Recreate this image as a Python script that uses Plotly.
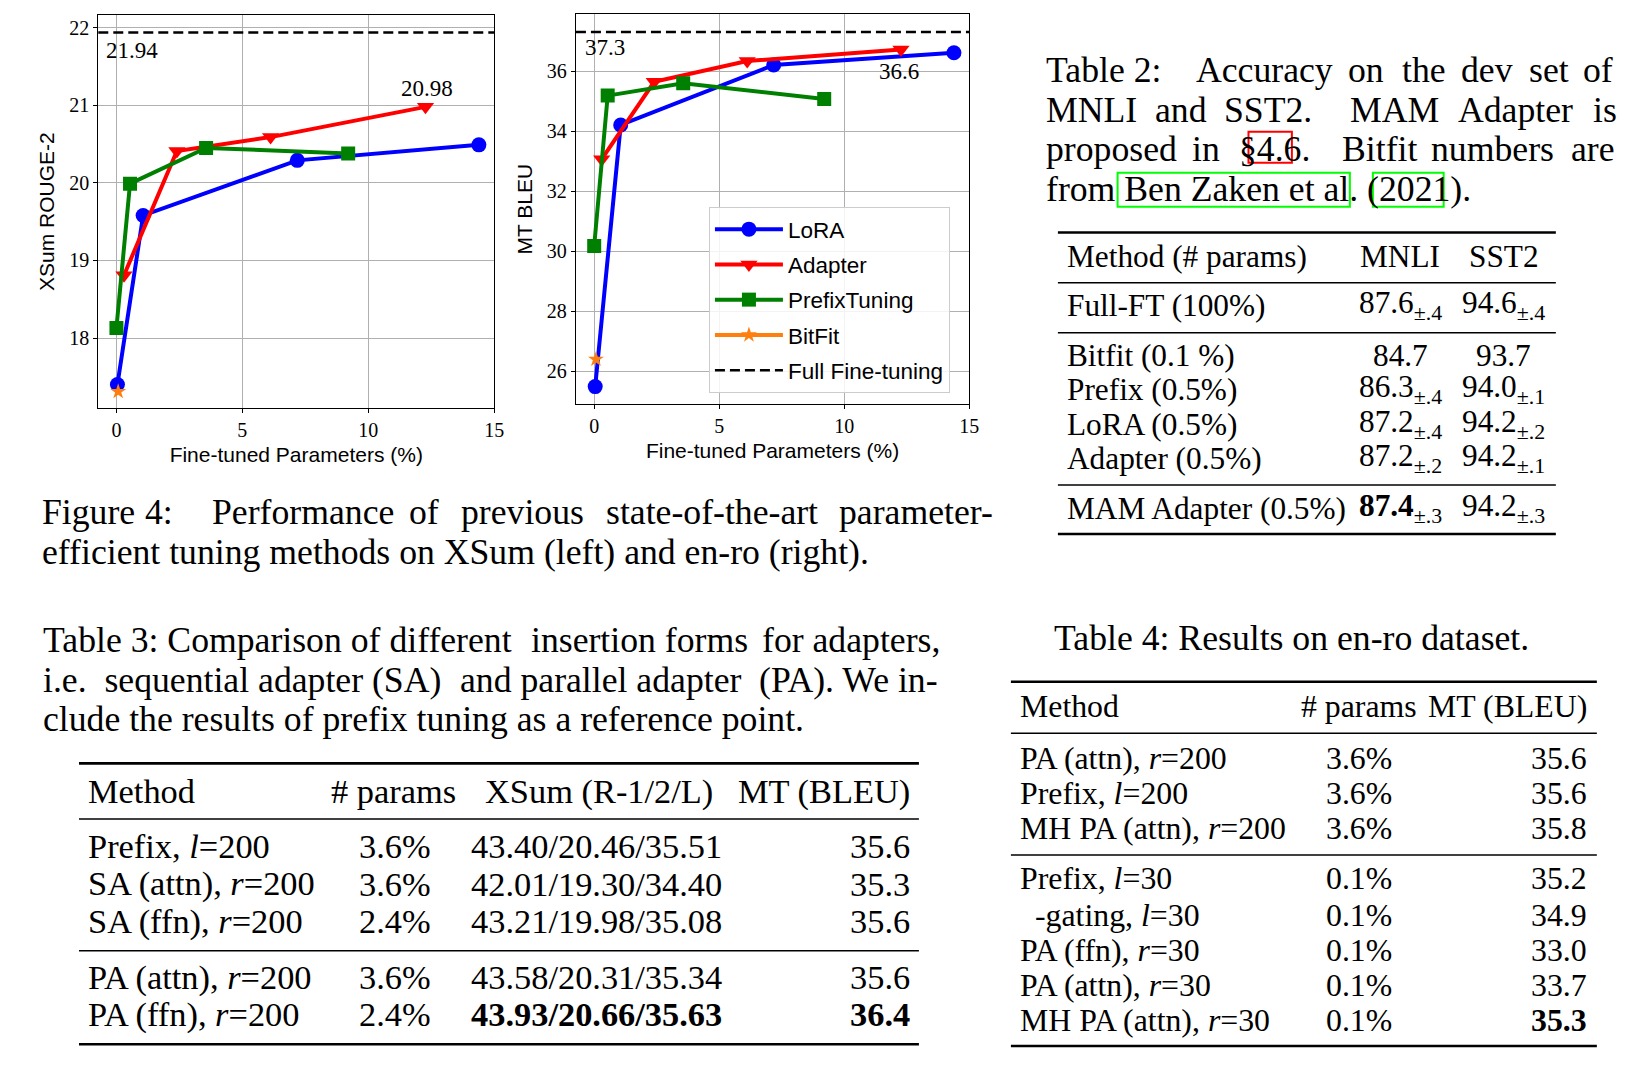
import plotly.graph_objects as go

W, H = 1651, 1070
KX = 1.006  # horizontal correction measured between picture and reference

# ---------------- chart data ----------------
x_lora = [0.04, 1.06, 7.18, 14.39]
x_adapter = [0.30, 2.40, 6.12, 12.27]
x_prefix = [0.00, 0.54, 3.56, 9.20]
x_bitfit = [0.07]

xsum_lora = [17.40, 19.58, 20.29, 20.49]
xsum_adapter = [18.81, 20.41, 20.59, 20.98]
xsum_prefix = [18.13, 19.99, 20.45, 20.38]
xsum_bitfit = [17.31]
xsum_full = 21.94

mt_lora = [25.48, 34.20, 36.20, 36.61]
mt_adapter = [33.06, 35.64, 36.33, 36.72]
mt_prefix = [30.17, 35.18, 35.59, 35.07]
mt_bitfit = [26.39]
mt_full = 37.3

x_ticks = [0, 5, 10, 15]
xsum_ticks = [18, 19, 20, 21, 22]
mt_ticks = [26, 28, 30, 32, 34, 36]

series_names = ["LoRA", "Adapter", "PrefixTuning", "BitFit"]
full_name = "Full Fine-tuning"

# ---------------- table data ----------------
t2_header = ["Method (# params)", "MNLI", "SST2"]
t2_methods = ["Full-FT (100%)", "Bitfit (0.1 %)", "Prefix (0.5%)", "LoRA (0.5%)",
              "Adapter (0.5%)", "MAM Adapter (0.5%)"]
t2_mnli = [87.6, 84.7, 86.3, 87.2, 87.2, 87.4]
t2_mnli_std = [".4", "", ".4", ".4", ".2", ".3"]
t2_sst2 = [94.6, 93.7, 94.0, 94.2, 94.2, 94.2]
t2_sst2_std = [".4", "", ".1", ".2", ".1", ".3"]

t3_header = ["Method", "# params", "XSum (R-1/2/L)", "MT (BLEU)"]
t3_methods = ["Prefix, <i>l</i>=200", "SA (attn), <i>r</i>=200", "SA (ffn), <i>r</i>=200",
              "PA (attn), <i>r</i>=200", "PA (ffn), <i>r</i>=200"]
t3_params = [3.6, 3.6, 2.4, 3.6, 2.4]
t3_r1 = [43.40, 42.01, 43.21, 43.58, 43.93]
t3_r2 = [20.46, 19.30, 19.98, 20.31, 20.66]
t3_rl = [35.51, 34.40, 35.08, 35.34, 35.63]
t3_bleu = [35.6, 35.3, 35.6, 35.6, 36.4]

t4_header = ["Method", "# params", "MT (BLEU)"]
t4_methods = ["PA (attn), <i>r</i>=200", "Prefix, <i>l</i>=200", "MH PA (attn), <i>r</i>=200",
              "Prefix, <i>l</i>=30", "  -gating, <i>l</i>=30", "PA (ffn), <i>r</i>=30",
              "PA (attn), <i>r</i>=30", "MH PA (attn), <i>r</i>=30"]
t4_params = [3.6, 3.6, 3.6, 0.1, 0.1, 0.1, 0.1, 0.1]
t4_bleu = [35.6, 35.6, 35.8, 35.2, 34.9, 33.0, 33.7, 35.3]

cap_t2 = [["Table 2:", "Accuracy", "on", "the", "dev", "set", "of"],
          ["MNLI", "and", "SST2.", "MAM", "Adapter", "is"],
          ["proposed", "in", "§4.6.", "Bitfit", "numbers", "are"],
          ["from Ben Zaken et al. (2021)."]]
cap_f4 = [["Figure", "4:", "Performance", "of", "previous", "state-of-the-art", "parameter-"],
          ["efficient tuning methods on XSum (left) and en-ro (right)."]]
cap_t3 = [["Table 3: Comparison of different", "insertion forms", "for adapters,"],
          ["i.e.\u00a0 sequential adapter (SA)", "and parallel adapter", "(PA). We in-"],
          ["clude the results of prefix tuning as a reference point."]]
cap_t4 = "Table 4: Results on en-ro dataset."

# ---------------- styles / layout positions ----------------
COLORS = ["#0000ff", "#ff0000", "#008000", "#ff7f0e"]
SYMBOLS = ["circle", "triangle-down", "square", "star"]
SIZES = [15, 15, 14, 12]
SERIF = "Liberation Serif"
SANS = "Liberation Sans"
CAP = 35.7
T2S = 31.3
T3S = 34.4
T4S = 31.8

def px(x):
    return x * KX / W

def py(y):
    return 1 - y / H

fig = go.Figure()

left_sets = [(x_lora, xsum_lora), (x_adapter, xsum_adapter), (x_prefix, xsum_prefix), (x_bitfit, xsum_bitfit)]
right_sets = [(x_lora, mt_lora), (x_adapter, mt_adapter), (x_prefix, mt_prefix), (x_bitfit, mt_bitfit)]

for i, (xs, ys) in enumerate(left_sets):
    fig.add_trace(go.Scatter(x=xs, y=ys, mode="lines+markers", name=series_names[i],
                             line=dict(color=COLORS[i], width=4),
                             marker=dict(symbol=SYMBOLS[i], size=SIZES[i], color=COLORS[i]),
                             xaxis="x", yaxis="y", showlegend=False, hoverinfo="skip"))
for i, (xs, ys) in enumerate(right_sets):
    fig.add_trace(go.Scatter(x=xs, y=ys, mode="lines+markers", name=series_names[i],
                             legendgroup=series_names[i],
                             line=dict(color=COLORS[i], width=4),
                             marker=dict(symbol=SYMBOLS[i], size=SIZES[i], color=COLORS[i]),
                             xaxis="x2", yaxis="y2", showlegend=True))
fig.add_trace(go.Scatter(x=[None], y=[None], mode="lines", name=full_name, legendgroup=full_name,
                         line=dict(color="black", width=2.5, dash="10px,5px"),
                         xaxis="x2", yaxis="y2", showlegend=True))

shapes = []
shapes.append(dict(type="line", xref="x domain", yref="y", x0=0, x1=1, y0=xsum_full, y1=xsum_full,
                   line=dict(color="black", width=2.5, dash="10px,5px")))
shapes.append(dict(type="line", xref="x2 domain", yref="y2", x0=0, x1=1, y0=mt_full, y1=mt_full,
                   line=dict(color="black", width=2.5, dash="10px,5px")))

ann = []
lab_font = dict(family=SERIF, size=23, color="black")
ann.append(dict(text=f"{xsum_full:.2f}", x=-0.5, y=xsum_full - 0.23, xref="x", yref="y",
                xanchor="left", yanchor="middle", showarrow=False, font=lab_font))
ann.append(dict(text=f"{xsum_adapter[-1]:.2f}", x=x_adapter[-1] + 0.06, y=xsum_adapter[-1] + 0.24,
                xref="x", yref="y", xanchor="center", yanchor="middle", showarrow=False, font=lab_font))
ann.append(dict(text=f"{mt_full:.1f}", x=-0.45, y=mt_full - 0.53, xref="x2", yref="y2",
                xanchor="left", yanchor="middle", showarrow=False, font=lab_font))
ann.append(dict(text=f"{mt_lora[-1]:.1f}", x=12.2, y=36.0, xref="x2", yref="y2",
                xanchor="center", yanchor="middle", showarrow=False, font=lab_font))

def txt(s, x, y, anchor="left", size=CAP):
    ann.append(dict(text=s, x=px(x), y=py(y), xref="paper", yref="paper", xanchor=anchor,
                    yanchor="middle", showarrow=False,
                    font=dict(family=SERIF, size=size, color="black")))

def rule(y, x0, x1, w):
    shapes.append(dict(type="line", xref="paper", yref="paper", x0=px(x0), x1=px(x1), y0=py(y), y1=py(y),
                       line=dict(color="black", width=w)))

def box(x0, y0, x1, y1, color):
    shapes.append(dict(type="rect", xref="paper", yref="paper", x0=px(x0), x1=px(x1), y0=py(y0), y1=py(y1),
                       line=dict(color=color, width=2)))

# ---- captions (word starts for justified lines) ----
t2_word_x = [[1044, 1194, 1346, 1400, 1459, 1527, 1581],
             [1044, 1153, 1222.5, 1348, 1456, 1591],
             [1044, 1190, 1237.5, 1340, 1429, 1569.5],
             [1044]]
t2_line_y = [70, 110, 149, 188.5]
for words, xs, y in zip(cap_t2, t2_word_x, t2_line_y):
    for w_, x_ in zip(words, xs):
        txt(w_, x_, y)
box(1248.6, 131.7, 1292, 162.7, "#ff0000")
box(1117.7, 172.7, 1350, 206.7, "#00ff00")
box(1373, 172.7, 1443.8, 206.7, "#00ff00")

f4_word_x = [[40, 143, 210, 406.7, 459, 604, 837.3], [40]]
f4_line_y = [511.7, 551.7]
for words, xs, y in zip(cap_f4, f4_word_x, f4_line_y):
    for w_, x_ in zip(words, xs):
        txt(w_, x_, y)

t3_line_y = [639.5, 679.5, 718.5]
t3_mid_x = [529, 458]
t3_right_end = [941.7, 940.5]
for k, (parts, y) in enumerate(zip(cap_t3, t3_line_y)):
    txt(parts[0], 41, y)
    if len(parts) > 1:
        txt(parts[1], t3_mid_x[k], y)
        txt(parts[2], t3_right_end[k], y, "right")

txt(cap_t4, 1051.8, 638.3)

# ---- Table 2 ----
rule(232.5, 1058, 1556, 2.6)
rule(282.7, 1058, 1556, 1.5)
rule(332.7, 1058, 1556, 1.5)
rule(485, 1058, 1556, 1.5)
rule(534, 1058, 1556, 2.6)
txt(t2_header[0], 1065, 256.7, size=T2S)
txt(t2_header[1], 1400, 256.7, "center", size=T2S)
txt(t2_header[2], 1504, 256.7, "center", size=T2S)
t2_rows_y = [305, 355, 389.3, 424, 458.3, 508.3]
for i, y in enumerate(t2_rows_y):
    txt(t2_methods[i], 1065, y, size=T2S)
    m = f"{t2_mnli[i]:.1f}"
    if i == len(t2_rows_y) - 1:
        m = f"<b>{m}</b>"
    if t2_mnli_std[i]:
        m += f"<sub>±{t2_mnli_std[i]}</sub>"
    s = f"{t2_sst2[i]:.1f}"
    if t2_sst2_std[i]:
        s += f"<sub>±{t2_sst2_std[i]}</sub>"
    txt(m, 1400.5, y, "center", size=T2S)
    txt(s, 1503.8, y, "center", size=T2S)

# ---- Table 3 ----
rule(763.4, 79, 919, 2.6)
rule(819, 79, 919, 1.5)
rule(950.7, 79, 919, 1.5)
rule(1044.3, 79, 919, 2.6)
txt(t3_header[0], 85.8, 791, size=T3S)
txt(t3_header[1], 394, 791, "center", size=T3S)
txt(t3_header[2], 598.6, 791, "center", size=T3S)
txt(t3_header[3], 912, 791, "right", size=T3S)
t3_rows_y = [846, 883.5, 921, 977, 1014.3]
for i, y in enumerate(t3_rows_y):
    txt(t3_methods[i], 85.8, y, size=T3S)
    txt(f"{t3_params[i]:.1f}%", 394.7, y, "center", size=T3S)
    xs_ = f"{t3_r1[i]:.2f}/{t3_r2[i]:.2f}/{t3_rl[i]:.2f}"
    bl = f"{t3_bleu[i]:.1f}"
    if i == len(t3_rows_y) - 1:
        xs_ = f"<b>{xs_}</b>"
        bl = f"<b>{bl}</b>"
    txt(xs_, 597, y, "center", size=T3S)
    txt(bl, 912, y, "right", size=T3S)

# ---- Table 4 ----
rule(681.7, 1011, 1597, 2.6)
rule(733.3, 1011, 1597, 1.5)
rule(855, 1011, 1597, 1.5)
rule(1046, 1011, 1597, 2.6)
txt(t4_header[0], 1018.3, 706.7, size=T4S)
txt(t4_header[1], 1359.2, 706.7, "center", size=T4S)
txt(t4_header[2], 1589.6, 706.7, "right", size=T4S)
t4_rows_y = [758.3, 793.3, 828.3, 878.3, 915, 950, 985, 1020]
for i, y in enumerate(t4_rows_y):
    name = t4_methods[i]
    xm = 1018.3
    if name.startswith("  "):
        name = name.strip()
        xm = 1033.2
    txt(name, xm, y, size=T4S)
    txt(f"{t4_params[i]:.1f}%", 1359.2, y, "center", size=T4S)
    bl = f"{t4_bleu[i]:.1f}"
    if i == len(t4_rows_y) - 1:
        bl = f"<b>{bl}</b>"
    txt(bl, 1589.6, y, "right", size=T4S)

axis_common = dict(showgrid=True, gridcolor="#b0b0b0", gridwidth=1, zeroline=False,
                   showline=True, mirror=True, linecolor="black", linewidth=1.2,
                   ticks="outside", ticklen=4, tickcolor="black", tickwidth=1,
                   tickfont=dict(family=SERIF, size=20, color="black"))
title_font = dict(family=SANS, size=21, color="black")

fig.update_layout(
    width=W, height=H, autosize=False, margin=dict(l=0, r=0, t=0, b=0, pad=0),
    paper_bgcolor="white", plot_bgcolor="white",
    xaxis=dict(domain=[px(98.3), px(494.3)], range=[-0.72, 15.0], anchor="y", tickvals=x_ticks,
               title=dict(text="Fine-tuned Parameters (%)", font=title_font, standoff=6), **axis_common),
    yaxis=dict(domain=[py(408.3), py(15)], range=[17.094, 22.164], anchor="x", tickvals=xsum_ticks,
               title=dict(text="XSum ROUGE-2", font=title_font, standoff=8), **axis_common),
    xaxis2=dict(domain=[px(576), px(969.3)], range=[-0.73, 15.0], anchor="y2", tickvals=x_ticks,
                title=dict(text="Fine-tuned Parameters (%)", font=title_font, standoff=6), **axis_common),
    yaxis2=dict(domain=[py(404.3), py(14)], range=[24.89, 37.9], anchor="x2", tickvals=mt_ticks,
                title=dict(text="MT BLEU", font=title_font, standoff=8), **axis_common),
    legend=dict(x=px(709), y=py(207), xanchor="left", yanchor="top", xref="paper", yref="paper",
                font=dict(family=SANS, size=22.5, color="black"), bgcolor="rgba(255,255,255,0.85)",
                bordercolor="#cccccc", borderwidth=1, traceorder="grouped", tracegroupgap=3,
                itemwidth=68),
    shapes=shapes, annotations=ann, showlegend=True,
)

fig.write_html("out.html", config={"responsive": False})
